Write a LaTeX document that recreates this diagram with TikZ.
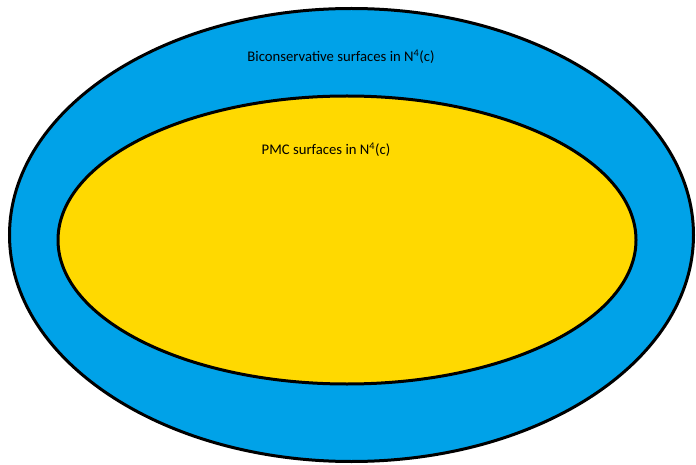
\documentclass[tikz,border=0pt]{standalone}
\usepackage{fontspec}
\setmainfont{Carlito}
\usetikzlibrary{shapes.geometric}
\definecolor{setblue}{RGB}{0,162,232}
\definecolor{setyellow}{RGB}{255,217,0}

\begin{document}
\begin{tikzpicture}[x=1pt,y=-1pt]
			\useasboundingbox (0,0) rectangle (696,465);
			\node[shape=ellipse,draw=black,line width=3pt,fill=setblue,minimum width=684pt,minimum height=453pt,inner sep=0pt] (B) at (351.5,235) {};
			\node[shape=ellipse,draw=black,line width=3pt,fill=setyellow,minimum width=578pt,minimum height=288pt,inner sep=0pt] (P) at (347,240) {};
			
			\node[font=\fontsize{14.7}{17}\selectfont] (Blabel) at (341,57) {Biconservative surfaces in N\textsuperscript{4}(c)};
			\node[font=\fontsize{14.7}{17}\selectfont] (Plabel) at (326,150) {PMC surfaces in N\textsuperscript{4}(c)};
			\end{tikzpicture}
\end{document}
